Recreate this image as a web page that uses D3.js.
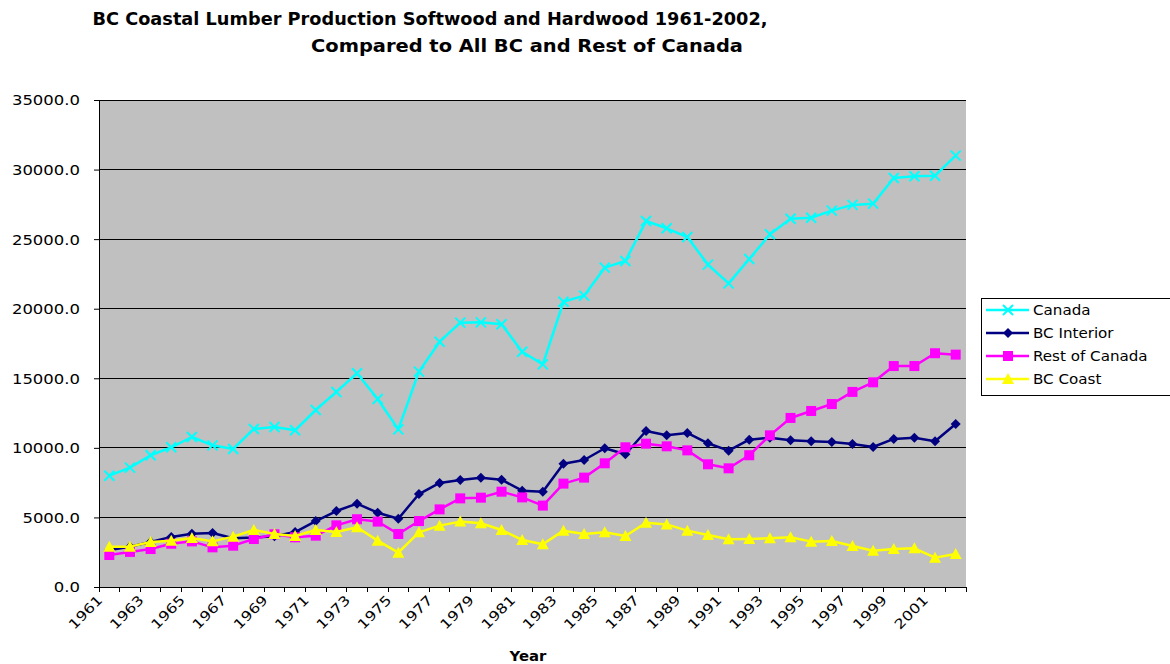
<!DOCTYPE html>
<html>
<head>
<meta charset="utf-8">
<script src="https://cdn.jsdelivr.net/npm/d3@7"></script>
<style>
  body { margin: 0; background: #fff; }
  text { font-family: "DejaVu Sans", Verdana, sans-serif; fill: #000; }
</style>
</head>
<body>
<div id="chart"></div>
<script>
// categories
const years = d3.range(1961, 2003);

// series values (thousand cubic metres)
const canada = [8000, 8580, 9470, 10040, 10780, 10180, 9920, 11360, 11500, 11260,
  12720, 14020, 15360, 13510, 11330, 15480, 17630, 19000, 19020, 18880,
  16910, 16000, 20500, 20940, 22950, 23430, 26300, 25780, 25150, 23170,
  21820, 23570, 25350, 26470, 26540, 27050, 27460, 27550, 29400, 29520,
  29560, 31000];
const bcInterior = [2660, 2900, 3230, 3600, 3820, 3880, 3500, 3550, 3650, 3950,
  4740, 5460, 5990, 5340, 4910, 6680, 7480, 7690, 7860, 7710,
  6920, 6850, 8860, 9130, 9970, 9540, 11210, 10900, 11070, 10330,
  9800, 10590, 10730, 10540, 10470, 10420, 10280, 10060, 10640, 10730,
  10470, 11720];
const restOfCanada = [2300, 2520, 2730, 3110, 3280, 2850, 2970, 3450, 3790, 3570,
  3690, 4430, 4870, 4700, 3810, 4740, 5580, 6370, 6420, 6850,
  6440, 5850, 7430, 7860, 8890, 10040, 10300, 10110, 9820, 8820,
  8530, 9470, 10900, 12150, 12650, 13150, 14020, 14710, 15880, 15880,
  16800, 16700];
const bcCoast = [2900, 2900, 3230, 3330, 3520, 3280, 3620, 4100, 3810, 3670,
  4100, 3950, 4290, 3330, 2470, 3930, 4410, 4700, 4580, 4100,
  3380, 3070, 4050, 3810, 3930, 3670, 4620, 4500, 4050, 3740,
  3430, 3450, 3500, 3570, 3260, 3310, 2950, 2610, 2730, 2780,
  2110, 2370];

const yTicks = [0, 5000, 10000, 15000, 20000, 25000, 30000, 35000];

const series = [
  { name: 'Canada', values: canada, color: '#00FFFF', marker: 'x' },
  { name: 'BC Interior', values: bcInterior, color: '#000080', marker: 'diamond' },
  { name: 'Rest of Canada', values: restOfCanada, color: '#FF00FF', marker: 'square' },
  { name: 'BC Coast', values: bcCoast, color: '#FFFF00', marker: 'triangle' }
];

const W = 1170, H = 664;
const plotL = 99, plotR = 966, plotT = 100, plotB = 587;
const sx = 1.22; // text in the original is stretched horizontally

const svg = d3.select('#chart').append('svg').attr('width', W).attr('height', H);

const x = d3.scaleBand().domain(years).range([plotL, plotR]);
const y = d3.scaleLinear().domain([0, 35000]).range([plotB, plotT]);
const cx = (d) => x(d) + x.bandwidth() / 2;

// plot area
svg.append('rect').attr('x', plotL).attr('y', plotT)
  .attr('width', plotR - plotL).attr('height', plotB - plotT).attr('fill', '#C0C0C0');

// gridlines
svg.append('g').selectAll('line').data(yTicks.slice(1)).enter().append('line')
  .attr('x1', plotL).attr('x2', plotR)
  .attr('y1', (d) => y(d)).attr('y2', (d) => y(d))
  .attr('stroke', '#000').attr('stroke-width', 1).attr('shape-rendering', 'crispEdges');

// title
const title = svg.append('g');
title.append('text').attr('transform', 'translate(430,25) scale(0.985,1)')
  .attr('text-anchor', 'middle').attr('font-size', 18).attr('font-weight', 'bold')
  .text('BC Coastal Lumber Production Softwood and Hardwood 1961-2002,');
title.append('text').attr('transform', 'translate(527,52) scale(1.08,1)')
  .attr('text-anchor', 'middle').attr('font-size', 18).attr('font-weight', 'bold')
  .text('Compared to All BC and Rest of Canada');

// y axis
const yAxis = d3.axisLeft(y).tickValues(yTicks).tickFormat(d3.format('.1f')).tickSize(5);
const gy = svg.append('g').attr('transform', 'translate(' + plotL + ',0)').call(yAxis);
gy.select('.domain').attr('stroke', '#000');
gy.selectAll('.tick line').attr('stroke', '#000');
gy.selectAll('.tick text')
  .attr('x', null).attr('dy', '0.36em')
  .attr('transform', 'translate(-19,0) scale(' + sx + ',1)')
  .attr('font-size', 13.5).attr('font-family', '"DejaVu Sans", Verdana, sans-serif').attr('fill', '#000');

// x axis: ticks on category edges, labels every other year
const gx = svg.append('g');
gx.append('line').attr('x1', plotL).attr('x2', plotR).attr('y1', plotB).attr('y2', plotB)
  .attr('stroke', '#000').attr('shape-rendering', 'crispEdges');
gx.selectAll('line.tick').data(years.concat(['end'])).enter().append('line')
  .attr('class', 'tick')
  .attr('x1', (d) => d === 'end' ? plotR : x(d)).attr('x2', (d) => d === 'end' ? plotR : x(d))
  .attr('y1', plotB).attr('y2', plotB + 5)
  .attr('stroke', '#000').attr('shape-rendering', 'crispEdges');
gx.selectAll('text').data(years.filter((d, i) => i % 2 === 0)).enter().append('text')
  .attr('transform', (d) => 'translate(' + (cx(d) - 6) + ',' + (plotB + 14) + ') rotate(-45) scale(1.2,1)')
  .attr('text-anchor', 'end').attr('font-size', 13.5)
  .text((d) => d);

svg.append('text').attr('transform', 'translate(528,661) scale(1.1,1)')
  .attr('text-anchor', 'middle').attr('font-size', 13.5).attr('font-weight', 'bold')
  .text('Year');

// markers
function drawMarker(sel, type, color) {
  if (type === 'x') {
    sel.append('path').attr('d', 'M-5,-5L5,5M-5,5L5,-5')
      .attr('stroke', color).attr('stroke-width', 2).attr('fill', 'none');
  } else if (type === 'diamond') {
    sel.append('path').attr('d', 'M0,-5L5,0L0,5L-5,0Z').attr('fill', color);
  } else if (type === 'square') {
    sel.append('rect').attr('x', -5).attr('y', -5).attr('width', 10).attr('height', 10).attr('fill', color);
  } else {
    sel.append('path').attr('d', 'M0,-6L6,5L-6,5Z').attr('fill', color);
  }
}

const line = d3.line().x((d, i) => cx(years[i])).y((d) => y(d));

series.forEach((s) => {
  const g = svg.append('g');
  g.append('path').datum(s.values).attr('d', line)
    .attr('fill', 'none').attr('stroke', s.color).attr('stroke-width', 2.5)
    .attr('stroke-linejoin', 'round');
  g.selectAll('g').data(s.values).enter().append('g')
    .attr('transform', (d, i) => 'translate(' + cx(years[i]) + ',' + y(d) + ')')
    .each(function () { drawMarker(d3.select(this), s.marker, s.color); });
});

// legend
const legend = svg.append('g').attr('transform', 'translate(981,298)');
legend.append('rect').attr('x', 0.5).attr('y', 0.5).attr('width', 200).attr('height', 97)
  .attr('fill', '#fff').attr('stroke', '#000');
series.forEach((s, i) => {
  const row = legend.append('g').attr('transform', 'translate(0,' + (12 + i * 23) + ')');
  row.append('line').attr('x1', 5).attr('x2', 48).attr('y1', 0).attr('y2', 0)
    .attr('stroke', s.color).attr('stroke-width', 2.5);
  drawMarker(row.append('g').attr('transform', 'translate(27,0)'), s.marker, s.color);
  row.append('text').attr('transform', 'translate(52,5) scale(1.08,1)')
    .attr('font-size', 14).text(s.name);
});
</script>
</body>
</html>
